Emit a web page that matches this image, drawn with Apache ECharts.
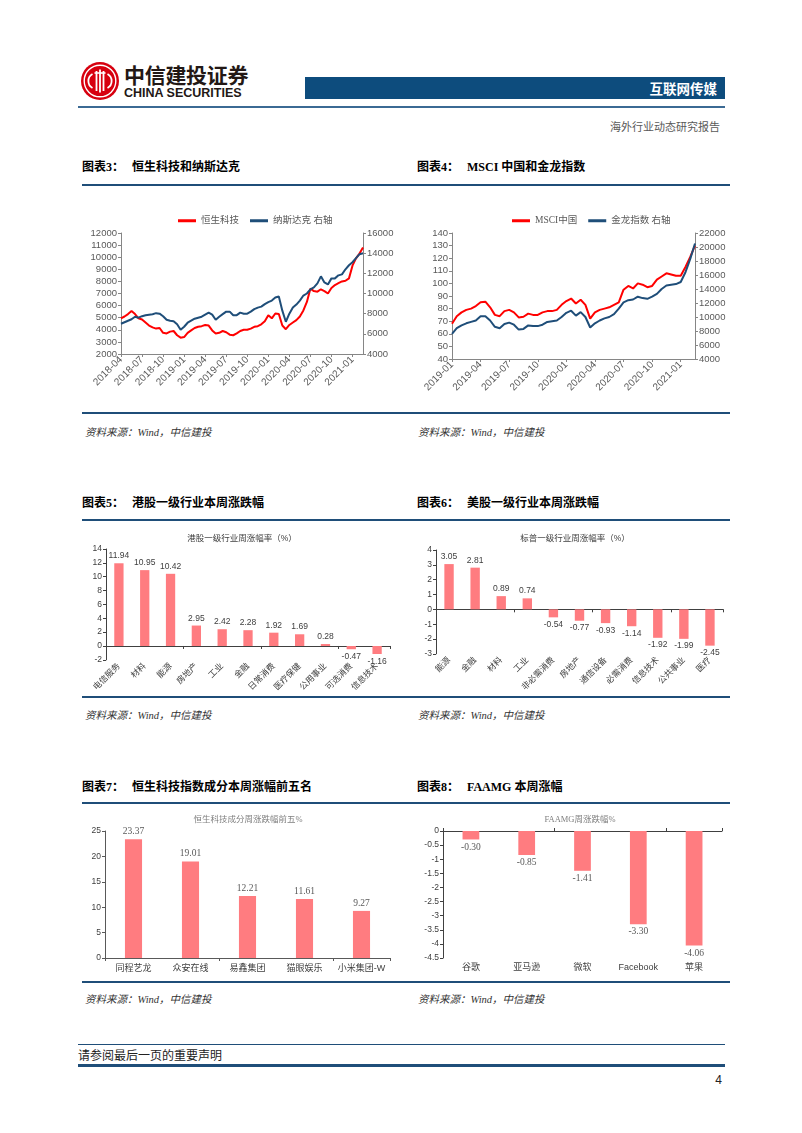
<!DOCTYPE html>
<html><head><meta charset="utf-8">
<script src="https://cdn.jsdelivr.net/npm/echarts@6/dist/echarts.min.js"></script>
<style>
body{margin:0;background:#fff;width:802px;height:1133px;position:relative;overflow:hidden;font-family:"Noto Sans CJK SC",sans-serif;}
.a{position:absolute;white-space:nowrap;}
.tt{font-family:"Liberation Serif","Noto Sans CJK SC",serif;font-weight:bold;font-size:12px;line-height:14px;color:#000;}
.src{font-family:"Liberation Serif","Noto Sans CJK SC",serif;font-style:italic;font-size:10.5px;line-height:14px;color:#333;}
.ln{position:absolute;background:#1F4E79;}
.ch{position:absolute;}
</style></head><body>

<svg class="a" style="left:80px;top:61px" width="40" height="40" viewBox="0 0 40 40">
  <circle cx="20" cy="20" r="19" fill="#D7000F"/>
  <circle cx="20" cy="20" r="15.8" fill="none" stroke="#fff" stroke-width="1.4"/>
  <path d="M12.5 13 a8 8 0 0 0 0 14" stroke="#fff" stroke-width="1.8" fill="none"/>
  <path d="M27.5 13 a8 8 0 0 1 0 14" stroke="#fff" stroke-width="1.8" fill="none"/>
  <path d="M16.5 10 v20 M20 8.5 v23 M23.5 10 v20" stroke="#fff" stroke-width="1.8" fill="none"/>
  <path d="M14.5 12 h11" stroke="#fff" stroke-width="1.6"/>
</svg>
<div class="a" style="left:124px;top:63px;font-size:21px;font-weight:bold;color:#231815;line-height:22px;letter-spacing:-0.3px">中信建投证券</div>
<div class="a" style="left:124px;top:87px;font-family:'Liberation Sans',sans-serif;font-size:12.5px;font-weight:bold;color:#231815;line-height:13px">CHINA SECURITIES</div>
<div class="a" style="left:305px;top:77px;width:420px;height:22px;background:#0D4C7D;"></div>
<div class="a" style="left:600px;top:77px;width:117px;text-align:right;font-size:13.5px;font-weight:bold;color:#fff;line-height:22px">互联网传媒</div>
<div class="ln" style="left:78px;top:106px;width:647px;height:2px;background:#3B6A94"></div>
<div class="a" style="left:560px;top:120px;width:160px;text-align:right;font-family:'Liberation Serif','Noto Sans CJK SC',serif;font-size:11px;color:#595959;line-height:14px">海外行业动态研究报告</div>

<div class="a tt" style="left:82px;top:160px">图表3：</div>
<div class="a tt" style="left:132px;top:160px">恒生科技和纳斯达克</div>
<div class="a tt" style="left:417px;top:160px">图表4：</div>
<div class="a tt" style="left:467px;top:160px">MSCI 中国和金龙指数</div>
<div class="ln" style="left:82px;top:184px;width:648px;height:2px"></div>
<div class="ln" style="left:82px;top:412px;width:648px;height:1.5px"></div>
<div class="a src" style="left:85px;top:426px">资料来源：Wind，中信建投</div>
<div class="a src" style="left:418px;top:426px">资料来源：Wind，中信建投</div>

<div class="a tt" style="left:82px;top:496px">图表5：</div>
<div class="a tt" style="left:132px;top:496px">港股一级行业本周涨跌幅</div>
<div class="a tt" style="left:417px;top:496px">图表6：</div>
<div class="a tt" style="left:467px;top:496px">美股一级行业本周涨跌幅</div>
<div class="ln" style="left:82px;top:519px;width:648px;height:2px"></div>
<div class="ln" style="left:82px;top:696px;width:648px;height:1.5px"></div>
<div class="a src" style="left:85px;top:709px">资料来源：Wind，中信建投</div>
<div class="a src" style="left:418px;top:709px">资料来源：Wind，中信建投</div>

<div class="a tt" style="left:82px;top:780px">图表7：</div>
<div class="a tt" style="left:132px;top:780px">恒生科技指数成分本周涨幅前五名</div>
<div class="a tt" style="left:417px;top:780px">图表8：</div>
<div class="a tt" style="left:467px;top:780px">FAAMG 本周涨幅</div>
<div class="ln" style="left:82px;top:802px;width:648px;height:2px"></div>
<div class="ln" style="left:82px;top:981px;width:648px;height:1.5px"></div>
<div class="a src" style="left:85px;top:993px">资料来源：Wind，中信建投</div>
<div class="a src" style="left:418px;top:993px">资料来源：Wind，中信建投</div>

<div class="ln" style="left:78px;top:1044px;width:647px;height:1px"></div>
<div class="a" style="left:78px;top:1049px;font-family:'Liberation Serif','Noto Sans CJK SC',serif;font-size:12px;line-height:14px;color:#222">请参阅最后一页的重要声明</div>
<div class="ln" style="left:78px;top:1064px;width:647px;height:3px"></div>
<div class="a" style="left:700px;top:1073px;width:22px;text-align:right;font-family:'Liberation Sans',sans-serif;font-size:12px;line-height:14px;color:#222">4</div>

<div id="c3" class="ch" style="left:80px;top:195px;width:320px;height:212px"></div>
<div id="c4" class="ch" style="left:410px;top:195px;width:330px;height:212px"></div>
<div id="c5" class="ch" style="left:80px;top:522px;width:320px;height:172px"></div>
<div id="c6" class="ch" style="left:410px;top:522px;width:330px;height:172px"></div>
<div id="c7" class="ch" style="left:80px;top:805px;width:320px;height:175px"></div>
<div id="c8" class="ch" style="left:410px;top:805px;width:330px;height:175px"></div>

<script>
// ---------- data ----------
// Chart 3: half-monthly, 2018-04 .. 2021-02
const c3StartYear = 2018, c3StartMonth = 4;
const hstech = [4950,5100,5300,5550,5300,4950,4850,4600,4350,4200,4100,4150,3750,3700,3850,3900,3550,3350,
  3400,3750,3950,4150,4250,4300,4400,4350,3950,3700,3750,3900,3800,3600,3550,3700,3900,4000,4000,4100,4250,4300,4450,4700,
  5200,4950,5350,5300,4350,4050,4400,4600,4800,5100,5600,6300,7400,7200,7150,7350,7200,7000,7450,7700,7850,8000,8050,8250,
  9300,9900,10300,10800];
const nasdaq = [7000,7150,7300,7450,7700,7600,7750,7850,7900,7950,8050,8000,7750,7400,7300,7250,6950,6400,
  6700,7100,7300,7500,7600,7700,7900,8100,7900,7400,7700,7950,8200,8200,7850,7850,8100,8000,8000,8200,8450,8600,8700,8950,
  9150,9300,9600,9700,8300,7200,8000,8600,8900,9300,9800,10000,10400,10600,11000,11700,11100,10900,11500,11500,11800,11900,12400,12800,
  13100,13500,13900,14000];
// Chart 4: half-monthly, 2019-01 .. 2021-02
const c4StartYear = 2019, c4StartMonth = 1;
const msciChina = [68,74,77,79,80,82,85,85.5,81,75,74,78,79,77,73,73.5,76,75,75,77,78,78,79,83,
  86,88,84,87,83,72,77,79,80,81,83,85,95,98,96,100,99,97,98,103,105.5,108,107,106,
  106,113,121,130];
const dragon = [7600,8400,8800,9100,9300,9500,10100,10100,9500,8600,8400,9000,9200,8900,8200,8300,8800,8700,8700,8900,9300,9400,9500,10000,
  10600,10900,10200,10700,10000,8500,9100,9500,9800,10000,10400,11200,12100,12400,12500,12900,12700,12600,12900,13300,14000,14500,14600,14700,
  15000,16400,18300,20500];
// Chart 5
const hkCats = ['电信服务','材料','能源','房地产','工业','金融','日常消费','医疗保健','公用事业','可选消费','信息技术'];
const hkVals = [11.94,10.95,10.42,2.95,2.42,2.28,1.92,1.69,0.28,-0.47,-1.16];
// Chart 6
const usCats = ['能源','金融','材料','工业','非必需消费','房地产','通信设备','必需消费','信息技术','公共事业','医疗'];
const usVals = [3.05,2.81,0.89,0.74,-0.54,-0.77,-0.93,-1.14,-1.92,-1.99,-2.45];
// Chart 7
const topCats = ['同程艺龙','众安在线','易鑫集团','猫眼娱乐','小米集团-W'];
const topVals = [23.37,19.01,12.21,11.61,9.27];
// Chart 8
const faCats = ['谷歌','亚马逊','微软','Facebook','苹果'];
const faVals = [-0.30,-0.85,-1.41,-3.30,-4.06];

// ---------- helpers ----------
function halfMonthDates(y, m, n){
  const out=[];
  for(let i=0;i<n;i++){
    const mm = m-1+Math.floor(i/2);
    const yy = y+Math.floor(mm/12);
    const mo = mm%12+1;
    out.push(yy+'-'+String(mo).padStart(2,'0')+(i%2?'-16':'-01'));
  }
  return out;
}
const quarterShow = (idx, val) => val.slice(8)==='01' && ['01','04','07','10'].indexOf(val.slice(5,7))>=0;
const SANS = "'Liberation Sans','Noto Sans CJK SC',sans-serif";
const SERIF = "'Liberation Serif','Noto Sans CJK SC',serif";
const RED='#FF0000', NAVY='#1F4E79', BAR='#FF7C80';
const plain = v => String(v);

function lineChart(el, dates, s1, s2, names, yL, yR, grid, legendLeft){
  const ax = '#868686';
  const yBase = (r) => ({type:'value', min:r[0], max:r[1], interval:r[2], splitLine:{show:false},
      axisLine:{show:true, lineStyle:{color:ax}}, axisTick:{show:true, length:3, lineStyle:{color:ax}},
      axisLabel:{fontSize:9.5, color:'#595959', fontFamily:SANS, margin:4, formatter:plain}});
  const yl = yBase(yL); const yr = yBase(yR); yr.position='right';
  echarts.init(document.getElementById(el)).setOption({
    animation:false,
    legend:{top:16, left:legendLeft, icon:'rect', itemWidth:18, itemHeight:3, itemGap:11,
      textStyle:{fontSize:9.5, color:'#595959', fontFamily:SERIF}, data:names},
    grid:grid,
    xAxis:{type:'category', data:dates, boundaryGap:false,
      axisLine:{lineStyle:{color:ax}}, axisTick:{interval:quarterShow, length:3, lineStyle:{color:ax}},
      axisLabel:{interval:quarterShow, formatter:v=>v.slice(0,7), rotate:45, fontSize:10, color:'#595959', fontFamily:SANS, margin:4}},
    yAxis:[yl, yr],
    series:[
      {name:names[0], type:'line', data:s1, yAxisIndex:0, showSymbol:false, lineStyle:{width:2, color:RED}, itemStyle:{color:RED}},
      {name:names[1], type:'line', data:s2, yAxisIndex:1, showSymbol:false, lineStyle:{width:2, color:NAVY}, itemStyle:{color:NAVY}}
    ]
  });
}

lineChart('c3', halfMonthDates(c3StartYear, c3StartMonth, hstech.length), hstech, nasdaq,
  ['恒生科技','纳斯达克 右轴'], [2000,12000,1000], [4000,16000,2000],
  {left:41, right:37, top:38, height:121}, 93);
lineChart('c4', halfMonthDates(c4StartYear, c4StartMonth, msciChina.length), msciChina, dragon,
  ['MSCI中国','金龙指数 右轴'], [40,140,10], [4000,22000,2000],
  {left:42, right:45, top:38, height:126}, 97);

function barChart(el, o){
  const ax = o.axisColor;
  const data = o.vals.map(v => ({value:v, label:{position: v<0?'bottom':'top'}}));
  echarts.init(document.getElementById(el)).setOption({
    animation:false,
    title:{text:o.title, left:o.titleX, textAlign:'center', top:o.titleTop,
      textStyle:{fontSize:o.titleSize, fontWeight:'normal', color:o.titleColor, fontFamily:o.titleFont}},
    grid:o.grid,
    xAxis:[
      {type:'category', data:o.cats, position:o.linePos, axisLine:{onZero:true, lineStyle:{color:ax}},
        axisTick:{show:true, length:3, lineStyle:{color:ax}}, axisLabel:{show:false}},
      {type:'category', data:o.cats, position:'bottom', axisLine:{show:false, onZero:false}, axisTick:{show:false},
        axisLabel:{rotate:o.rotate, fontSize:o.catSize, color:'#404040', fontFamily:SANS, margin:o.catMargin, interval:0}}
    ],
    yAxis:{type:'value', min:o.y[0], max:o.y[1], interval:o.y[2], splitLine:{show:false},
      axisLine:{show:true, lineStyle:{color:ax}}, axisTick:{show:true, length:3, lineStyle:{color:ax}},
      axisLabel:{fontSize:o.ySize, color:'#404040', fontFamily:SANS, margin:4}},
    series:[{type:'bar', data:data, barWidth:o.barWidth, xAxisIndex:0, itemStyle:{color:BAR},
      label:{show:true, fontSize:o.lblSize, color:o.lblColor, fontFamily:o.lblFont, distance:3,
        formatter:p=>Number(p.value).toFixed(2)}}]
  });
}

barChart('c5', {title:'港股一级行业周涨幅率（%）', titleX:157, titleTop:7, titleSize:8.5, titleColor:'#404040', titleFont:SANS,
  grid:{left:26, right:10, top:27, height:112}, cats:hkCats, vals:hkVals, linePos:'bottom', axisColor:'#404040',
  rotate:45, catSize:8.5, catMargin:5, y:[-2,14,2], ySize:8.5, barWidth:'36%', lblSize:8.5, lblColor:'#404040', lblFont:SANS});
barChart('c6', {title:'标普一级行业周涨幅率（%）', titleX:160, titleTop:7, titleSize:8.5, titleColor:'#404040', titleFont:SANS,
  grid:{left:26, right:17, top:28, height:106}, cats:usCats, vals:usVals, linePos:'bottom', axisColor:'#404040',
  rotate:45, catSize:8.5, catMargin:5, y:[-3,4,1], ySize:8.5, barWidth:'36%', lblSize:8.5, lblColor:'#404040', lblFont:SANS});
barChart('c7', {title:'恒生科技成分周涨跌幅前五%', titleX:163, titleTop:6, titleSize:8.5, titleColor:'#7f7f7f', titleFont:SERIF,
  grid:{left:25, right:10, top:26, height:127}, cats:topCats, vals:topVals, linePos:'bottom', axisColor:'#595959',
  rotate:0, catSize:9, catMargin:6, y:[0,25,5], ySize:8.5, barWidth:'30%', lblSize:9.5, lblColor:'#595959', lblFont:SERIF});
barChart('c8', {title:'FAAMG周涨跌幅%', titleX:165, titleTop:6, titleSize:8.5, titleColor:'#7f7f7f', titleFont:SERIF,
  grid:{left:33, right:18, top:26, height:127}, cats:faCats, vals:faVals, linePos:'top', axisColor:'#404040',
  rotate:0, catSize:9, catMargin:5, y:[-4.5,0,0.5], ySize:8.5, barWidth:'30%', lblSize:9.5, lblColor:'#595959', lblFont:SERIF});
</script>
</body></html>
